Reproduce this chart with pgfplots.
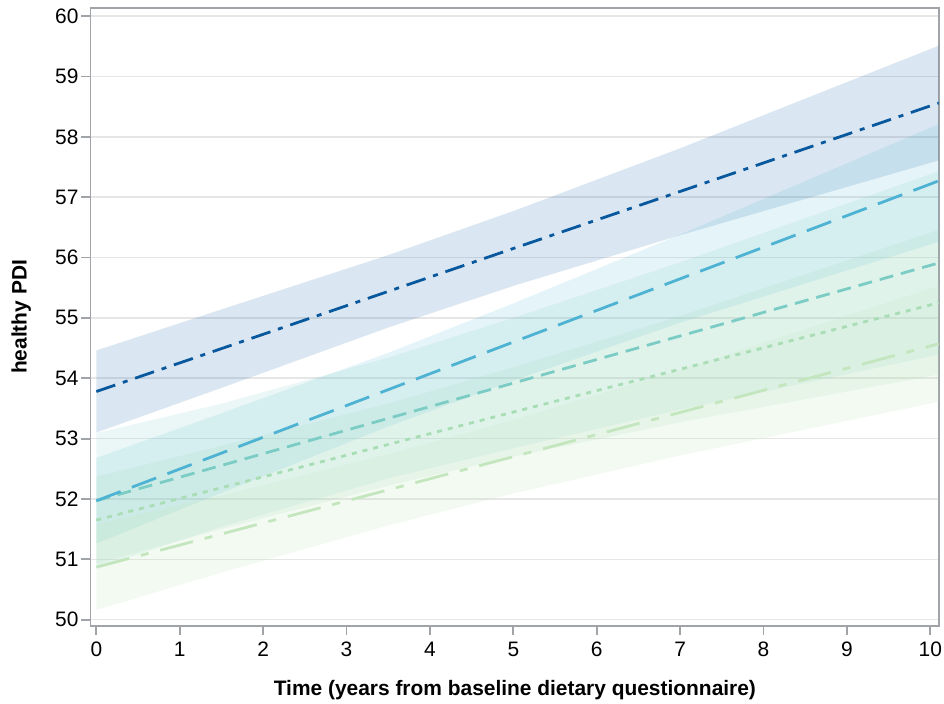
\documentclass[border=0pt]{standalone}
\usepackage{fontspec}
\setmainfont{Liberation Sans}
\usepackage{pgfplots}
\pgfplotsset{compat=1.18}
\definecolor{cA}{HTML}{08589E}
\definecolor{cB}{HTML}{4EB3D3}
\definecolor{cC}{HTML}{7BCCC4}
\definecolor{cD}{HTML}{A8DDB5}
\definecolor{cE}{HTML}{C4E6BE}
\definecolor{axgray}{HTML}{A0A4A8}
\definecolor{gridgray}{HTML}{E6E6E6}
\begin{document}
\begin{tikzpicture}
\path[use as bounding box] (-45.25bp,-39.15bp) rectangle (426.75bp,312.85bp);
\begin{axis}[
  at={(0,0)}, anchor=south west, scale only axis,
  width=424.4bp, height=308.7bp,
  xmin=-0.07, xmax=10.108, ymin=49.9, ymax=60.13,
  xtick={0,1,2,3,4,5,6,7,8,9,10},
  ytick={50,51,52,53,54,55,56,57,58,59,60},
  tick pos=left, tick align=outside, major tick length=4.5bp,
  tick style={draw=axgray, line width=0.9bp},
  axis line style={draw=axgray, line width=0.9bp},
  ymajorgrids, grid style={draw=gridgray, line width=0.8bp},
  tick label style={font=\fontsize{10.5}{12}\selectfont, text=black},
  yticklabel style={xshift=2bp},
  /pgf/number format/assume math mode=true,
  xlabel={Time (years from baseline dietary questionnaire)},
  ylabel={healthy PDI},
  label style={font=\bfseries\fontsize{10.5}{12}\selectfont},
  xlabel style={at={(axis description cs:0.5,-0.1035)}, anchor=center},
  ylabel style={at={(axis description cs:-0.0815,0.5)}, anchor=center},
]
% confidence bands
\addplot[draw=none, fill=cA, fill opacity=0.15] coordinates {
 (0,54.46) (1.5,55.14) (3.5,56.04) (5,56.77) (7,57.81) (10.1,59.51)
 (10.1,57.61) (7,56.37) (5,55.53) (3.5,54.84) (1.5,53.84) (0,53.10)} --cycle;
\addplot[draw=none, fill=cB, fill opacity=0.15] coordinates {
 (0,52.68) (1.5,53.42) (3.5,54.42) (5,55.24) (7,56.38) (10.1,58.21)
 (10.1,56.26) (7,54.92) (5,53.96) (3.5,53.20) (1.5,52.10) (0,51.26)} --cycle;
\addplot[draw=none, fill=cC, fill opacity=0.15] coordinates {
 (0,53.09) (1.5,53.58) (3.5,54.34) (5,55.00) (7,55.92) (10.1,57.43)
 (10.1,54.39) (7,53.48) (5,52.84) (3.5,52.34) (1.5,51.54) (0,50.85)} --cycle;
\addplot[draw=none, fill=cD, fill opacity=0.17] coordinates {
 (0,52.37) (1.5,52.88) (3.5,53.58) (5,54.18) (7,55.03) (10.1,56.46)
 (10.1,54.06) (7,53.27) (5,52.70) (3.5,52.22) (1.5,51.50) (0,50.93)} --cycle;
\addplot[draw=none, fill=cE, fill opacity=0.2] coordinates {
 (0,51.58) (1.5,52.06) (3.5,52.74) (5,53.31) (7,54.14) (10.1,55.53)
 (10.1,53.61) (7,52.72) (5,52.09) (3.5,51.56) (1.5,50.78) (0,50.16)} --cycle;
% estimated trajectories
\addplot[cE, line width=1.4bp, dash pattern=on 17bp off 6bp on 4bp off 6bp] coordinates {(0,50.87) (5,52.70) (10.1,54.57)};
\addplot[cD, line width=1.4bp, dash pattern=on 2.5bp off 3bp] coordinates {(0,51.65) (5,53.44) (10.1,55.25)};
\addplot[cC, line width=1.4bp, dash pattern=on 7bp off 4bp] coordinates {(0,51.97) (5,53.92) (10.1,55.91)};
\addplot[cB, line width=1.4bp, dash pattern=on 13bp off 6bp] coordinates {(0,51.97) (5,54.60) (10.1,57.27)};
\addplot[cA, line width=1.4bp, dash pattern=on 10bp off 4bp on 2.5bp off 4bp] coordinates {(0,53.78) (5,56.15) (10.1,58.56)};
\end{axis}
\end{tikzpicture}
\end{document}
